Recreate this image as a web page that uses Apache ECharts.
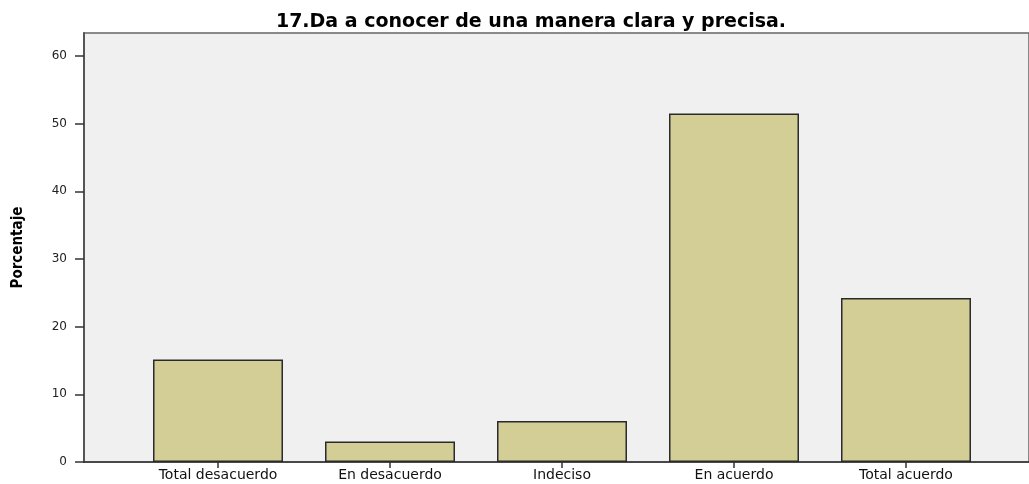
<!DOCTYPE html>
<html>
<head>
<meta charset="utf-8">
<script src="https://cdn.jsdelivr.net/npm/echarts@6/dist/echarts.min.js"></script>
<style>
  html, body { margin: 0; padding: 0; background: #fff; }
  #main-chart { width: 1029px; height: 484px; }
</style>
</head>
<body>
<div id="main-chart"></div>
<script>
// Values (percent of respondents)
var categories = ['Total desacuerdo', 'En desacuerdo', 'Indeciso', 'En acuerdo', 'Total acuerdo'];
var percentages = [15.15, 3.03, 6.06, 51.52, 24.24];
var yTicks = [0, 10, 20, 30, 40, 50, 60];
var yMax = 63.4;

var myChart = echarts.init(document.getElementById('main-chart'));

var option = {
    animation: false,
    title: {
        text: '17.Da a conocer de una manera clara y precisa.',
        left: 526,
        top: 8,
        textAlign: 'center',
        textStyle: { fontFamily: 'DejaVu Sans', fontSize: 19, fontWeight: 'bold', color: '#000' }
    },
    grid: [
        // full plot frame (grey area), holds the y axis
        { left: 84, top: 33, right: -3, bottom: 22, show: true, backgroundColor: '#f0f0f0',
          borderColor: '#666', borderWidth: 1.5 },
        // bar area, narrower so the bars sit where SPSS put them
        { left: 132, top: 33, width: 860, bottom: 22 }
    ],
    xAxis: [
        {
            gridIndex: 0, type: 'value', min: 0, max: 1,
            axisLine: { show: true, lineStyle: { color: '#333', width: 1.5 } },
            axisTick: { show: false }, axisLabel: { show: false }, splitLine: { show: false }
        },
        {
            gridIndex: 1, type: 'category', data: categories,
            axisLine: { show: false },
            axisTick: { show: true, alignWithLabel: true, length: 6, lineStyle: { color: '#333', width: 1.5 } },
            axisLabel: { fontFamily: 'DejaVu Sans', fontSize: 14, color: '#111', margin: 6 }
        }
    ],
    yAxis: [
        {
            gridIndex: 0, type: 'value', min: 0, max: yMax,
            name: 'Porcentaje', nameLocation: 'middle', nameRotate: 90, nameGap: 58,
            nameTextStyle: { fontFamily: 'DejaVu Sans Condensed', fontSize: 15, fontWeight: 'bold', color: '#000' },
            axisLine: { show: true, lineStyle: { color: '#555', width: 2 } },
            axisTick: { show: true, length: 9, customValues: yTicks, lineStyle: { color: '#333', width: 1.5 } },
            axisLabel: { customValues: yTicks, fontFamily: 'DejaVu Sans', fontSize: 12, color: '#222', margin: 17 },
            splitLine: { show: false }
        },
        {
            gridIndex: 1, type: 'value', min: 0, max: yMax, show: false
        }
    ],
    series: [{
        name: 'Porcentaje',
        type: 'bar',
        xAxisIndex: 1,
        yAxisIndex: 1,
        data: percentages,
        barWidth: 130,
        itemStyle: { color: '#d3cd96', borderColor: '#2a2a2a', borderWidth: 1.5 }
    }]
};

myChart.setOption(option);
</script>
</body>
</html>
